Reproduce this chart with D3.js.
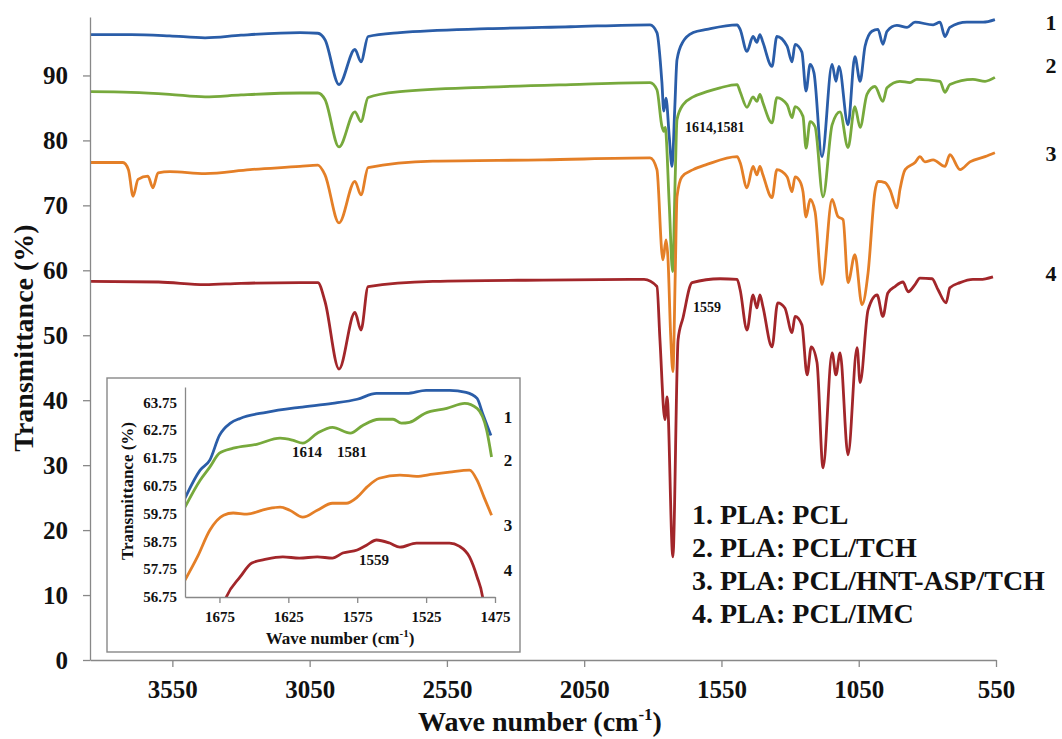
<!DOCTYPE html>
<html>
<head>
<meta charset="utf-8">
<script src="https://cdn.jsdelivr.net/npm/d3@7"></script>
<style>
	body { margin: 0; background: #fff; }
	svg text { font-family: "Liberation Serif", "Times New Roman", serif; font-weight: bold; fill: #111; }
	.axis .domain, .axis line { stroke: #888; stroke-width: 1.3px; }
</style>
</head>
<body>
<div id="chart-area"></div>
<script>
const svgWidth = 1062,
	svgHeight = 739;

// main spectra: [wave number, transmittance]
const pclSpec = [[3850,96.3],[3700,96.3],[3560,96.1],[3431,95.8],[3300,96.2],[3085,96.6],[3020,96.5],[2994,95.5],[2943,88.6],[2885,94.0],[2863,92.1],[2837,96.0],[2721,96.6],[2400,97.2],[2100,97.5],[1810,97.8],[1785,96.6],[1767,89.0],[1760,84.5],[1752,86.5],[1740,80.5],[1730,76.0],[1720,85.0],[1712,92.4],[1690,95.2],[1653,96.6],[1603,97.1],[1493,97.8],[1482,97.1],[1457,93.7],[1435,96.0],[1421,95.1],[1410,96.3],[1399,95.1],[1366,91.4],[1348,96.0],[1311,94.5],[1293,92.1],[1282,94.8],[1257,93.6],[1242,87.6],[1227,91.7],[1213,90.4],[1184,77.5],[1147,91.7],[1133,89.1],[1122,91.4],[1089,82.4],[1064,92.9],[1045,89.1],[1027,94.5],[1002,96.8],[980,97.1],[962,94.8],[947,96.8],[911,97.7],[874,97.4],[845,98.2],[779,97.8],[754,98.2],[736,96.0],[718,97.4],[656,98.2],[597,98.2],[554,98.6]];
const tchSpec = [[3850,87.5],[3700,87.4],[3560,87.1],[3431,86.7],[3300,87.0],[3085,87.3],[3020,87.3],[2994,86.3],[2943,79.0],[2885,84.4],[2863,82.9],[2837,86.6],[2721,87.5],[2400,88.2],[2100,88.6],[1810,88.9],[1785,87.8],[1767,82.2],[1760,81.4],[1755,82.0],[1740,70.0],[1728,59.8],[1718,75.0],[1712,83.2],[1690,85.5],[1653,86.7],[1603,87.5],[1555,88.1],[1493,88.6],[1482,87.5],[1457,85.1],[1435,86.7],[1421,86.0],[1410,87.1],[1399,85.8],[1366,82.7],[1348,86.6],[1311,85.5],[1293,83.5],[1282,85.2],[1253,83.7],[1242,78.8],[1227,82.9],[1209,82.1],[1180,71.3],[1147,82.4],[1118,84.4],[1089,78.9],[1064,85.2],[1045,82.0],[1020,87.1],[991,88.3],[962,86.0],[947,88.1],[900,89.1],[863,88.9],[838,89.4],[754,89.1],[736,87.4],[718,88.6],[634,89.4],[590,89.1],[554,89.7]];
const hntSpec = [[3850,76.6],[3730,76.6],[3710,75.5],[3693,71.4],[3675,74.0],[3639,74.5],[3621,72.7],[3602,75.0],[3559,75.2],[3431,74.9],[3267,75.5],[3085,76.0],[3020,76.2],[2994,74.7],[2943,67.3],[2885,73.7],[2863,71.6],[2837,75.8],[2601,76.8],[2200,77.0],[1810,77.3],[1785,75.5],[1767,62.7],[1763,61.6],[1752,64.7],[1745,62.0],[1735,50.0],[1727,44.4],[1718,60.0],[1712,71.3],[1694,74.4],[1653,75.5],[1603,76.3],[1493,77.5],[1482,76.6],[1457,72.7],[1435,76.0],[1421,74.7],[1410,76.0],[1399,74.7],[1366,71.2],[1348,75.5],[1311,74.4],[1293,72.1],[1282,74.4],[1264,73.7],[1253,72.1],[1242,68.2],[1227,70.9],[1209,69.0],[1184,57.8],[1147,70.9],[1126,68.3],[1107,67.8],[1089,58.1],[1064,62.4],[1038,54.7],[1016,59.6],[991,72.1],[980,73.7],[954,73.5],[936,72.4],[911,69.6],[900,72.4],[881,75.5],[845,76.6],[827,77.5],[809,76.7],[779,77.0],[736,76.0],[718,77.8],[681,75.5],[645,76.7],[590,77.5],[554,78.1]];
const imcSpec = [[3850,58.3],[3600,58.2],[3431,57.8],[3300,58.0],[3085,58.1],[3020,58.1],[2994,55.2],[2943,44.8],[2885,53.5],[2863,50.8],[2837,57.5],[2601,58.3],[2200,58.5],[1832,58.6],[1785,57.5],[1774,49.3],[1756,37.0],[1748,40.5],[1727,15.9],[1708,49.3],[1690,52.7],[1657,58.1],[1555,58.7],[1493,58.6],[1482,57.0],[1457,50.8],[1435,56.2],[1421,54.2],[1410,56.2],[1399,54.4],[1366,48.2],[1345,55.0],[1319,54.2],[1293,50.4],[1282,52.9],[1257,51.6],[1238,43.9],[1223,48.2],[1202,45.8],[1180,29.6],[1147,47.3],[1133,43.9],[1118,47.3],[1089,31.6],[1056,48.1],[1045,42.7],[1016,53.9],[983,56.2],[962,52.9],[944,56.5],[918,57.5],[889,58.2],[870,56.7],[845,57.8],[827,58.8],[783,58.7],[761,57.0],[732,55.0],[718,57.3],[681,58.1],[634,58.6],[608,58.6],[561,59.0]];

// inset (1700-1475 cm-1)
const pclZoom = [[1700,60.30],[1689,61.31],[1682,61.67],[1675,62.56],[1667,63.0],[1660,63.17],[1641,63.39],[1617,63.57],[1593,63.71],[1575,63.86],[1561,64.07],[1544,64.07],[1539,64.07],[1525,64.18],[1508,64.18],[1496,64.11],[1488,63.89],[1484,63.35],[1478,62.56]];
const tchZoom = [[1700,59.98],[1689,60.95],[1682,61.42],[1675,61.92],[1665,62.10],[1648,62.24],[1631,62.46],[1622,62.39],[1614.5,62.28],[1604,62.64],[1593,62.85],[1580,62.64],[1571,62.92],[1559,63.14],[1549,63.14],[1543,63.0],[1537,63.03],[1526,63.35],[1510,63.53],[1497,63.71],[1488,63.53],[1481,62.74],[1477.5,61.78]];
const hntZoom = [[1700,57.36],[1691,58.19],[1682,59.15],[1672,59.69],[1665,59.77],[1655,59.73],[1641,59.91],[1631,59.98],[1624,59.87],[1614.5,59.62],[1604,59.87],[1593,60.12],[1583,60.12],[1575,60.34],[1568,60.70],[1559,61.02],[1544,61.13],[1532,61.09],[1520,61.17],[1508,61.24],[1493.5,61.31],[1488,60.95],[1483,60.34],[1477.5,59.69]];
const imcZoom = [[1672,56.5],[1670,56.75],[1660,57.47],[1651.5,57.97],[1641,58.11],[1629,58.19],[1617,58.15],[1604,58.19],[1593,58.15],[1585.5,58.33],[1575,58.44],[1568,58.62],[1561,58.80],[1551.5,58.69],[1544,58.54],[1532,58.69],[1520,58.69],[1508,58.69],[1501,58.58],[1493.5,58.19],[1488,57.47],[1484,56.75],[1483,56.4]];

const seriesNames = ["1. PLA: PCL", "2. PLA: PCL/TCH", "3. PLA: PCL/HNT-ASP/TCH", "4. PLA: PCL/IMC"];
const seriesNums = ["1", "2", "3", "4"];
const colors = ["#2a5da8", "#77a93c", "#e47f27", "#a2262a"];

const xTicks = [3550, 3050, 2550, 2050, 1550, 1050, 550];
const yTicks = [0, 10, 20, 30, 40, 50, 60, 70, 80, 90];
const insetXTicks = [1675, 1625, 1575, 1525, 1475];
const insetYTicks = [56.75, 57.75, 58.75, 59.75, 60.75, 61.75, 62.75, 63.75];

const serif = '"Liberation Serif", "Times New Roman", serif';

const svg = d3.select("#chart-area")
	.append("svg")
	.attr("width", svgWidth)
	.attr("height", svgHeight)
	.attr("font-family", serif);

// main scales
const x = d3.scaleLinear().domain([3850, 550]).range([90, 996]);
const y = d3.scaleLinear().domain([0, 99]).range([660, 17]);

const line = d3.line()
	.x(d => x(d[0]))
	.y(d => y(d[1]))
	.curve(d3.curveMonotoneX);

[pclSpec, tchSpec, hntSpec, imcSpec].forEach((s, i) => {
	svg.append("path")
		.attr("fill", "none")
		.attr("stroke", colors[i])
		.attr("stroke-width", 2.8)
		.attr("stroke-linejoin", "round")
		.attr("d", line(s));
});

const xAxisGroup = svg.append("g")
	.attr("class", "x axis")
	.attr("transform", "translate(0, 660)")
	.call(d3.axisBottom(x).tickValues(xTicks).tickFormat(d3.format("d"))
		.tickSize(7).tickSizeOuter(0).tickPadding(13));
xAxisGroup.attr("font-family", serif);
xAxisGroup.selectAll("text").attr("font-size", "25px").attr("fill", "#111");

const yAxisGroup = svg.append("g")
	.attr("class", "y axis")
	.attr("transform", "translate(90, 0)")
	.call(d3.axisLeft(y).tickValues(yTicks).tickFormat(d3.format("d"))
		.tickSize(7).tickSizeOuter(0).tickPadding(15));
yAxisGroup.attr("font-family", serif);
yAxisGroup.selectAll("text").attr("font-size", "25px").attr("fill", "#111");

// axis titles
const xTitle = svg.append("text")
	.attr("x", 540)
	.attr("y", 731)
	.attr("font-size", "28px")
	.attr("text-anchor", "middle")
	.text("Wave number (cm");
xTitle.append("tspan").attr("dy", -11).attr("font-size", "17px").text("-1");
xTitle.append("tspan").attr("dy", 11).text(")");

svg.append("text")
	.attr("transform", "translate(33, 338) rotate(-90)")
	.attr("font-size", "28px")
	.attr("text-anchor", "middle")
	.text("Transmittance (%)");

// curve numbers on the right
const numY = [22, 65, 153, 273];
seriesNums.forEach((n, i) => {
	svg.append("text")
		.attr("x", 1051)
		.attr("y", numY[i])
		.attr("dy", "0.35em")
		.attr("font-size", "22px")
		.attr("text-anchor", "middle")
		.text(n);
});

// peak annotations
svg.append("text").attr("x", 685).attr("y", 132).attr("font-size", "14px").text("1614,1581");
svg.append("text").attr("x", 693).attr("y", 312).attr("font-size", "14px").text("1559");

// legend
seriesNames.forEach((n, i) => {
	svg.append("text")
		.attr("x", 692)
		.attr("y", 524 + i * 33)
		.attr("font-size", "28px")
		.text(n);
});

// inset
svg.append("rect")
	.attr("x", 107)
	.attr("y", 378)
	.attr("width", 413)
	.attr("height", 274)
	.attr("fill", "#fff")
	.attr("stroke", "#888")
	.attr("stroke-width", 1.4);

const ix = d3.scaleLinear().domain([1700, 1475]).range([185, 495]);
const iy = d3.scaleLinear().domain([56.75, 64.3]).range([597, 387]);

svg.append("clipPath").attr("id", "inset-clip")
	.append("rect")
	.attr("x", 185).attr("y", 380)
	.attr("width", 315).attr("height", 217);

const insetLine = d3.line()
	.x(d => ix(d[0]))
	.y(d => iy(d[1]))
	.curve(d3.curveMonotoneX);

const insetArea = svg.append("g").attr("clip-path", "url(#inset-clip)");
[pclZoom, tchZoom, hntZoom, imcZoom].forEach((s, i) => {
	insetArea.append("path")
		.attr("fill", "none")
		.attr("stroke", colors[i])
		.attr("stroke-width", 2.8)
		.attr("stroke-linejoin", "round")
		.attr("d", insetLine(s));
});

const ixAxis = svg.append("g")
	.attr("class", "axis")
	.attr("transform", "translate(0, 597)")
	.call(d3.axisBottom(ix).tickValues(insetXTicks).tickFormat(d3.format("d"))
		.tickSize(6).tickSizeOuter(0).tickPadding(8));
ixAxis.attr("font-family", serif);
ixAxis.selectAll("text").attr("font-size", "15px").attr("fill", "#111");

const iyAxis = svg.append("g")
	.attr("class", "axis")
	.attr("transform", "translate(185, 0)")
	.call(d3.axisLeft(iy).tickValues(insetYTicks).tickSize(0).tickSizeOuter(0)
		.tickPadding(8).tickFormat(d3.format(".2f")));
iyAxis.attr("font-family", serif);
iyAxis.selectAll("text").attr("font-size", "15px").attr("fill", "#111");

const ixTitle = svg.append("text")
	.attr("x", 340)
	.attr("y", 644)
	.attr("font-size", "17px")
	.attr("text-anchor", "middle")
	.text("Wave number (cm");
ixTitle.append("tspan").attr("dy", -7).attr("font-size", "11px").text("-1");
ixTitle.append("tspan").attr("dy", 7).text(")");

svg.append("text")
	.attr("transform", "translate(133, 491) rotate(-90)")
	.attr("font-size", "17px")
	.attr("text-anchor", "middle")
	.text("Transmittance (%)");

const insetNumY = [417, 460, 525, 570];
seriesNums.forEach((n, i) => {
	svg.append("text")
		.attr("x", 508)
		.attr("y", insetNumY[i])
		.attr("dy", "0.35em")
		.attr("font-size", "17px")
		.attr("text-anchor", "middle")
		.text(n);
});

svg.append("text").attr("x", 307).attr("y", 457).attr("font-size", "15px").attr("text-anchor", "middle").text("1614");
svg.append("text").attr("x", 352).attr("y", 457).attr("font-size", "15px").attr("text-anchor", "middle").text("1581");
svg.append("text").attr("x", 374).attr("y", 565).attr("font-size", "15px").attr("text-anchor", "middle").text("1559");
</script>
</body>
</html>
